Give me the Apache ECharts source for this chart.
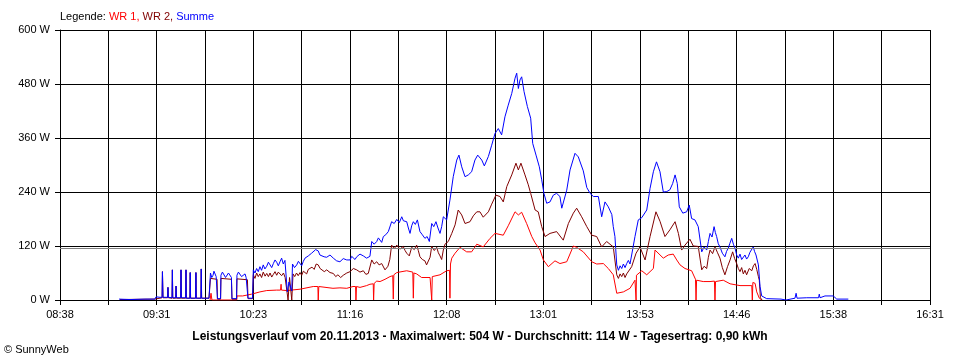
<!DOCTYPE html>
<html>
<head>
<meta charset="utf-8">
<script src="https://cdn.jsdelivr.net/npm/echarts@6/dist/echarts.min.js"></script>
<style>
html,body{margin:0;padding:0;background:#fff;}
#chart{width:960px;height:360px;}
</style>
</head>
<body>
<div id="chart"></div>
<script>
// time in minutes after midnight, value in W
const START_MIN = 518; // 08:38
const END_MIN = 991;   // 16:31
const AVERAGE_W = 114;
const yTicks = [0, 120, 240, 360, 480, 600];

const summe = [
[550.1,2],[556.1,1],[564.2,2],[569.6,2],[570.2,7],[572.4,6],
[573.5,6],[573.7,63],[574.0,6],[576.5,6],[576.7,28],[576.9,6],
[578.9,5],[579.1,67],[579.3,5],[580.9,5],[581.1,31],[581.3,5],
[583.6,5],[583.8,67],[584.0,5],[586.3,5],[586.5,67],[586.7,4],
[588.6,4],[588.8,61],[589.0,4],[591.7,4],[591.9,61],[592.1,4],
[594.6,4],[594.8,69],[595.0,4],
[599.0,4],[599.8,60],[600.5,50],[601.2,55],[601.7,64],[602.3,62],[602.9,52],[603.4,50],[603.6,3],[605.3,3],[605.5,55],[606.3,62],[607.2,58],[608.0,50],[608.8,52],[609.6,60],[610.4,56],[611.2,50],[611.5,3],[614.0,3],[614.2,55],[615.0,62],[615.9,60],[616.7,52],[617.5,50],[618.6,58],[619.2,50],[619.9,52],[620.2,4],[622.7,4],
[623.1,67],[624.0,60],[624.9,70],[625.8,63],[626.7,74],[627.6,66],[628.5,78],[629.4,69],[630.4,75],[631.3,84],[632.2,80],[633.1,72],[634.0,81],[634.9,89],[635.8,84],[636.7,76],[637.6,85],[638.5,93],[639.4,80],[640.3,88],[641.1,84],[641.6,18],[642.5,40],[644.0,20],[644.4,80],[645.5,72],[646.7,78],[647.6,86],[648.5,83],[649.4,76],[650.3,86],[651.2,93],[652.1,89],[653.0,98],[653.9,95],[654.8,104],[655.7,101],[657.0,112],[658.4,109],[659.3,100],[660.3,104],[661.6,96],[663.0,95],[664.8,100],[666.6,93],[668.4,87],[670.2,85],[672.0,92],[673.9,89],[675.7,89],[676.6,97],[677.5,96],[678.4,90],[679.3,96],[681.1,102],[682.9,98],[684.7,93],[686.5,97],
[687.5,130],[688.8,124],[690.2,130],[691.1,138],[692.0,135],[692.9,128],[693.8,141],[695.1,145],[696.5,152],[697.4,150],[698.3,174],[699.7,170],[701.1,179],[702.5,172],[703.8,185],[704.7,176],[705.6,180],[706.5,174],[707.4,160],[708.3,148],[709.2,165],[710.1,174],[711.2,168],[712.3,178],[713.7,152],[715.0,145],[716.4,137],[717.6,141],[718.8,130],[720.1,170],[721.2,163],[722.4,174],[723.5,160],[724.6,148],[725.5,163],[726.4,185],[727.3,181],[728.2,178],[729.1,200],
[730.0,222],[731.8,274],[733.7,311],[734.9,322],[736.4,296],[738.2,274],[740.0,278],[741.8,285],[743.6,311],[745.1,322],[747.3,311],[748.7,298],[750.9,319],[752.7,344],[754.5,370],[756.3,381],[758.1,367],[759.9,407],[761.7,433],[763.6,459],[765.4,493],[766.3,504],[767.2,470],[768.1,489],[769.0,496],[770.3,463],[772.1,430],[773.9,404],[775.0,348],[776.8,322],[778.6,296],[779.9,267],[781.1,237],[782.6,215],[784.4,218],[786.2,233],[788.0,237],[789.8,230],[790.8,204],[793.5,244],[795.3,289],[798.0,326],[799.8,318],[802.5,287],[804.4,250],[806.2,237],[808.0,230],[810.7,230],[812.5,185],[814.3,218],[816.1,207],[818.0,190],[818.8,163],[819.7,141],
[820.7,78],[821.6,66],[822.5,76],[823.4,70],[824.3,80],[825.2,72],[826.1,81],[827.0,88],[827.9,80],[828.8,100],[830.6,141],[832.4,178],[834.3,183],[837.0,200],[838.8,248],[840.6,285],[842.3,307],[844.2,285],[846.0,240],[847.9,241],[849.6,245],[851.1,259],[852.4,278],[853.6,259],[854.7,207],[856.6,193],[858.7,196],[860.1,211],[861.4,181],[863.2,178],[865.0,163],
[866.9,107],[868.2,118],[869.6,111],[870.5,130],[871.4,148],[872.5,140],[873.6,163],[874.3,150],[875.0,141],[875.9,125],[876.8,118],[878.1,104],[879.5,96],[880.4,108],[881.3,115],[882.2,126],[883.2,137],[884.1,124],[885.0,115],[885.9,100],[886.8,93],[887.7,102],[888.6,90],[889.5,89],[890.4,100],[891.3,91],[892.2,96],[893.1,106],[894.0,110],[894.9,118],[895.6,108],[896.4,100],[897.7,78],[898.6,30],[899.5,9],
[902.2,3],[910.0,2],[910.5,0],[912.7,0],[913.3,4],[917.6,4],[918.2,15],[918.7,4],[924.0,5],[930.4,5],[930.8,13],[931.2,5],[933.9,9],[938.4,9],[940.3,2],[946.6,2]
];

const wr2 = [
[550.6,1],[569.6,2],[570.2,5],
[573.5,5],[573.7,63],[574.0,5],[576.5,5],[576.7,28],[576.9,5],[578.9,4],[579.1,67],[579.3,4],[580.9,4],[581.1,31],[581.3,4],[583.6,4],[583.8,67],[584.0,4],[586.3,4],[586.5,67],[586.7,4],[588.6,4],[588.8,61],[589.0,4],[591.7,4],[591.9,61],[592.1,4],[594.6,4],[594.8,69],[595.0,4],
[599.0,4],[599.8,48],[603.4,46],[603.6,2],[605.3,2],[605.5,48],[611.2,46],[611.5,2],[614.0,2],[614.2,47],[619.9,45],[620.2,3],[622.7,3],
[623.1,56],[624.0,48],[624.9,60],[625.8,52],[626.7,58],[627.6,50],[628.5,62],[629.5,53],[630.4,59],[631.3,52],[632.2,60],[633.1,51],[634.0,57],[634.9,63],[635.8,55],[636.7,62],[637.6,61],[638.5,54],[639.5,60],[640.4,50],[641.3,52],[642.0,0],[642.8,50],[644.0,0],[644.7,58],[645.6,52],[646.6,60],[647.5,54],[648.5,61],[649.4,55],[650.3,64],[651.2,63],[652.1,58],[653.0,68],[653.9,67],[655.0,73],[656.2,68],[657.3,80],[658.4,78],[659.4,70],[660.4,72],[661.7,63],[663.0,67],[664.8,61],[666.6,59],[667.9,52],[669.1,56],[670.6,50],[672.0,55],[673.9,60],[675.7,63],[677.5,70],[679.3,67],[681.1,62],[682.9,65],[684.3,57],[685.6,59],
[687.5,89],[688.8,80],[690.2,85],[691.5,78],[692.9,81],[694.7,67],[696.3,75],[697.3,90],[698.3,122],[699.7,114],[701.1,122],[702.8,113],[704.6,119],[705.6,110],[706.5,104],[707.9,98],[709.2,117],[710.6,112],[711.9,122],[712.8,110],[713.7,96],[715.0,90],[716.4,87],[717.3,78],[718.2,81],[719.2,95],[720.1,119],[721.5,110],[722.8,117],[723.7,105],[724.6,98],[725.5,90],[726.4,111],[727.3,124],[729.1,130],
[731.0,148],[732.8,167],[734.5,200],[736.4,189],[738.2,170],[740.9,174],[742.7,187],[744.6,196],[746.3,196],[748.1,184],[750.9,196],[752.7,213],[755.0,233],[757.2,230],[759.0,218],[760.9,252],[763.6,278],[765.9,304],[767.2,289],[768.6,304],[770.8,278],[772.6,256],[773.9,237],[776.3,200],[778.0,196],[779.9,163],[781.7,141],[784.4,148],[788.0,152],[791.6,133],[794.4,170],[797.1,193],[798.9,204],[801.6,185],[804.4,163],[807.1,144],[809.8,141],[812.5,118],[815.2,130],[818.8,118],
[820.7,56],[821.6,48],[822.5,58],[823.4,52],[824.3,60],[825.2,50],[826.1,58],[827.0,56],[828.8,74],[831.2,104],[833.3,118],[836.1,89],[838.8,141],[842.0,196],[844.2,175],[846.9,141],[849.6,156],[852.4,174],[854.2,148],[856.0,111],[857.8,122],[860.5,135],[862.3,120],[865.0,119],
[866.9,67],[868.2,75],[869.6,70],[870.5,95],[871.4,111],[872.8,103],[874.1,118],[875.5,105],[876.8,93],[878.1,72],[879.5,56],[880.9,74],[882.3,89],[883.7,107],[884.8,92],[885.9,81],[886.8,70],[887.7,63],[888.6,72],[889.5,58],[890.4,66],[891.3,56],[892.7,70],[894.1,65],[895.0,76],[895.9,81],[896.8,68],[897.7,52],[898.2,44],[898.8,5],[899.7,0]
];

const wr1 = [
[599.6,0],[600.1,15],[600.6,0],[614.1,0],[614.2,9],[617.3,9],[622.2,13],[626.7,18],[630.4,21],[635.8,22],[637.9,22],[638.2,35],[638.4,22],[641.3,21],[648.5,24],[655.7,30],[658.2,30],[658.4,0],[658.7,30],[659.4,29],[666.4,26],[670.2,27],[673.9,26],[677.3,30],[678.7,30],[678.9,0],[679.2,30],[681.1,28],[684.7,32],[686.5,35],[688.3,36],[688.5,0],[688.8,37],[690.2,42],[692.0,41],[694.7,46],[697.4,52],[698.9,54],[699.2,2],[699.5,56],[701.1,61],[706.5,65],[709.8,62],[710.1,4],[710.4,60],[711.9,58],[714.6,50],[719.2,50],[719.8,51],[720.1,0],[720.4,52],[724.6,56],[728.2,65],[729.8,66],[730.0,4],[730.3,80],[731.0,93],[732.8,104],[735.5,117],[739.1,107],[741.8,107],[744.6,124],[748.1,118],[751.8,137],[754.5,148],[759.0,144],[761.7,165],[765.4,196],[767.2,189],[769.0,195],[771.7,170],[774.5,141],[776.3,127],[779.0,111],[780.8,89],[783.5,74],[787.1,87],[789.8,81],[793.5,85],[797.1,120],[798.9,117],[802.5,107],[807.1,85],[809.8,80],[813.4,81],[816.1,70],[818.8,56],[820.7,15],[824.3,18],[827.9,26],[830.6,44],[831.0,44],[831.2,0],[831.4,55],[831.9,59],[834.3,65],[837.0,56],[840.6,70],[841.5,111],[846.0,93],[848.7,100],[851.4,102],[853.3,89],[855.1,78],[857.8,70],[861.4,65],[863.5,46],[863.8,0],[864.1,44],[867.7,41],[871.4,41],[873.8,42],[874.1,0],[874.4,41],[878.6,44],[882.3,36],[887.7,32],[894.1,32],[894.4,0],[894.7,39],[895.9,37],[896.8,18],[898.2,4],[899.5,0]
];

const titleText = 'Leistungsverlauf vom 20.11.2013 - Maximalwert: 504 W - Durchschnitt: 114 W - Tagesertrag: 0,90 kWh';
const legendNames = ['WR 1', 'WR 2', 'Summe'];
const colors = ['#ff0000', '#800000', '#0000ff'];

const FONT = '"Liberation Sans", Arial, sans-serif';
const SPAN = END_MIN - START_MIN;
const STEP = SPAN / 18;

function toXY(arr) { return arr.map(p => [p[0] - START_MIN, p[1]]); }
function fmtTime(v) {
  const k = Math.round(v / STEP);
  if (k % 2 !== 0) return '';
  const m = Math.round(START_MIN + v);
  const h = Math.floor(m / 60), mm = m % 60;
  return String(h).padStart(2, '0') + ':' + String(mm).padStart(2, '0');
}

const chart = echarts.init(document.getElementById('chart'), null, {renderer: 'canvas'});
chart.setOption({
  animation: false,
  backgroundColor: '#fff',
  grid: {left: 60, right: 30, top: 30, bottom: 60, outerBoundsMode: 'none', containLabel: false},
  xAxis: {
    type: 'value', min: 0, max: SPAN, interval: STEP,
    axisLine: {show: true, lineStyle: {color: '#000', width: 1}},
    axisTick: {show: true, length: 5, lineStyle: {color: '#000', width: 1}},
    axisLabel: {color: '#000', fontFamily: FONT, fontSize: 11, margin: 9, formatter: fmtTime, showMinLabel: true, showMaxLabel: true},
    splitLine: {show: true, lineStyle: {color: '#000', width: 1}}
  },
  yAxis: {
    type: 'value', min: yTicks[0], max: yTicks[yTicks.length - 1], interval: yTicks[1] - yTicks[0],
    axisLine: {show: true, lineStyle: {color: '#000', width: 1}},
    axisTick: {show: true, length: 5, lineStyle: {color: '#000', width: 1}},
    axisLabel: {color: '#000', fontFamily: FONT, fontSize: 11, margin: 10, formatter: '{value} W'},
    splitLine: {show: true, lineStyle: {color: '#000', width: 1}}
  },
  graphic: [
    {type: 'text', left: 60, top: 11, style: {
      text: '{k|Legende: }{a|' + legendNames[0] + ',} {b|' + legendNames[1] + ',} {c|' + legendNames[2] + '}',
      font: '11px ' + FONT,
      rich: {
        k: {fill: '#000', fontFamily: FONT, fontSize: 11},
        a: {fill: colors[0], fontFamily: FONT, fontSize: 11},
        b: {fill: colors[1], fontFamily: FONT, fontSize: 11},
        c: {fill: colors[2], fontFamily: FONT, fontSize: 11}
      }
    }},
    {type: 'text', x: 480, y: 337, style: {text: titleText, font: 'bold 12px ' + FONT, fill: '#000', textAlign: 'center', textVerticalAlign: 'middle'}},
    {type: 'text', x: 4, y: 350, style: {text: '© SunnyWeb', font: '11px ' + FONT, fill: '#000', textAlign: 'left', textVerticalAlign: 'middle'}}
  ],
  series: [
    {name: legendNames[0], type: 'line', data: toXY(wr1), showSymbol: false, symbol: 'none', lineStyle: {color: colors[0], width: 1}, itemStyle: {color: colors[0]}, z: 2},
    {name: legendNames[1], type: 'line', data: toXY(wr2), showSymbol: false, symbol: 'none', lineStyle: {color: colors[1], width: 1}, itemStyle: {color: colors[1]}, z: 3},
    {name: legendNames[2], type: 'line', data: toXY(summe), showSymbol: false, symbol: 'none', lineStyle: {color: colors[2], width: 1}, itemStyle: {color: colors[2]}, z: 4,
      markLine: {silent: true, symbol: 'none', label: {show: false}, lineStyle: {color: '#808080', type: 'solid', width: 1}, data: [{yAxis: AVERAGE_W}]}}
  ]
});
</script>
</body>
</html>
